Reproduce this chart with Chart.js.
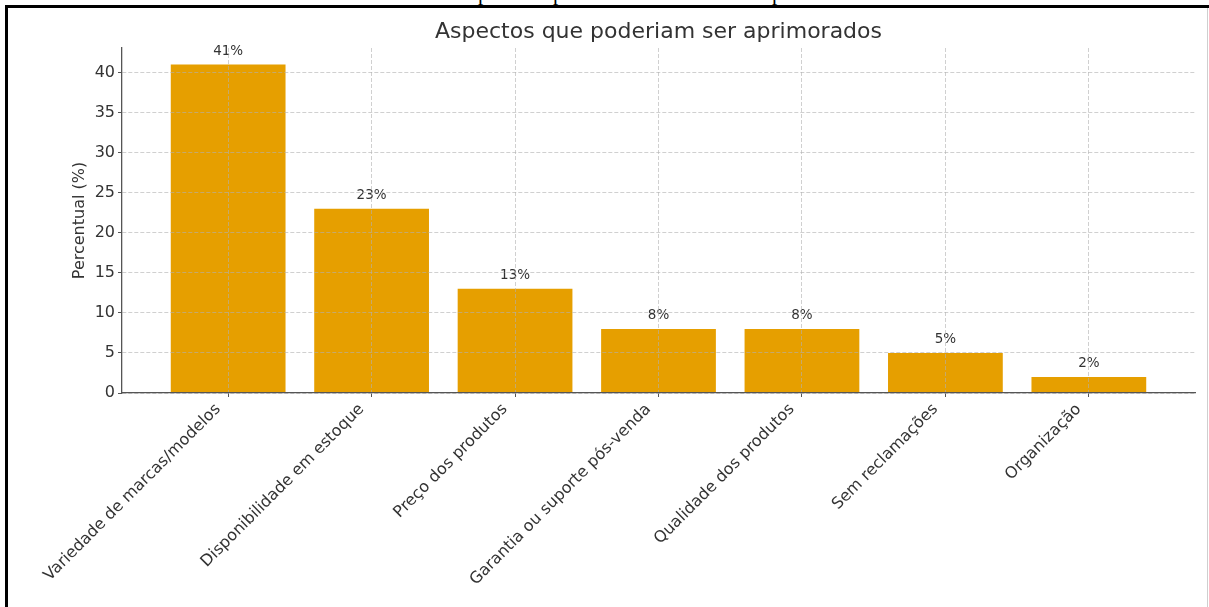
<!DOCTYPE html>
<html>
<head>
<meta charset="utf-8">
<script src="https://cdn.jsdelivr.net/npm/chart.js@4.4.1/dist/chart.umd.min.js"></script>
<style>
  html, body { margin: 0; padding: 0; background: #ffffff; }
  #wrap { position: relative; width: 1209px; height: 607px; overflow: hidden; background: #ffffff; }
  #c { position: absolute; left: 0; top: 0; }
  .fr { position: absolute; }
</style>
</head>
<body>
<div id="wrap">
  <svg class="fr" style="left:0;top:0" width="1209" height="5">
    <text x="478" y="0" font-family="Liberation Serif" font-size="21" fill="#000">p</text>
    <text x="553" y="0" font-family="Liberation Serif" font-size="21" fill="#000">p</text>
    <text x="772" y="0" font-family="Liberation Serif" font-size="21" fill="#000">p</text>
  </svg>
  <canvas id="c" width="1209" height="607"></canvas>
  <div class="fr" style="left:5px;top:5px;width:1204px;height:3px;background:#000"></div>
  <div class="fr" style="left:5px;top:5px;width:3px;height:602px;background:#000"></div>
  <div class="fr" style="left:1207px;top:8px;width:1px;height:599px;background:#cfcfcf"></div>
</div>
<script>
const categories = [
  "Variedade de marcas/modelos",
  "Disponibilidade em estoque",
  "Preço dos produtos",
  "Garantia ou suporte pós-venda",
  "Qualidade dos produtos",
  "Sem reclamações",
  "Organização"
];
const percentValues = [41, 23, 13, 8, 8, 5, 2];
const yTickValues = [0, 5, 10, 15, 20, 25, 30, 35, 40];
const chartTitle = "Aspectos que poderiam ser aprimorados";
const yAxisTitle = "Percentual (%)";

const FONT = "DejaVu Sans";
const barColor = "#E69F00";
const textColor = "#333333";
const spineColor = "#555555";
const gridColor = "rgba(176,176,176,0.6)";

const points = percentValues.map((v, i) => ({ x: i, y: v }));

const extrasPlugin = {
  id: "extras",
  afterDatasetsDraw(chart) {
    const ctx = chart.ctx;
    const meta = chart.getDatasetMeta(0);
    ctx.save();
    ctx.fillStyle = textColor;
    ctx.font = "13.5px '" + FONT + "'";
    ctx.textAlign = "center";
    ctx.textBaseline = "middle";
    meta.data.forEach((bar, i) => {
      ctx.fillText(percentValues[i] + "%", bar.x, bar.y - 13);
    });
    ctx.restore();
  },
  afterDraw(chart) {
    const ctx = chart.ctx;
    const area = chart.chartArea;
    ctx.save();
    ctx.fillStyle = textColor;
    ctx.font = "22px '" + FONT + "'";
    ctx.textAlign = "center";
    ctx.textBaseline = "middle";
    ctx.fillText(chartTitle, (area.left + area.right) / 2, 32);
    ctx.translate(80, (area.top + area.bottom) / 2);
    ctx.rotate(-Math.PI / 2);
    ctx.font = "16px '" + FONT + "'";
    ctx.fillText(yAxisTitle, 0, 0);
    ctx.restore();
  }
};

new Chart(document.getElementById("c"), {
  type: "bar",
  data: {
    datasets: [{
      data: points,
      backgroundColor: barColor,
      borderWidth: 0,
      barPercentage: 0.8,
      categoryPercentage: 1.0
    }]
  },
  plugins: [extrasPlugin],
  options: {
    responsive: false,
    animation: false,
    events: [],
    layout: { padding: { top: 48, right: 14, left: 0, bottom: 0 } },
    plugins: { legend: { display: false }, title: { display: false }, tooltip: { enabled: false } },
    scales: {
      x: {
        type: "linear",
        offset: false,
        min: -0.74,
        max: 6.74,
        afterBuildTicks(scale) {
          scale.ticks = categories.map((c, i) => ({ value: i }));
        },
        afterFit(scale) {
          scale.height = 214;
          scale.paddingLeft = 0;
          scale.paddingRight = 0;
        },
        grid: {
          z: 1,
          offset: false,
          color: gridColor,
          lineWidth: 1,
          drawTicks: true,
          tickLength: 4,
          tickColor: spineColor,
          tickWidth: 1
        },
        border: { display: true, z: 2, color: spineColor, width: 1.3, dash: [4, 2] },
        ticks: {
          autoSkip: false,
          minRotation: 45,
          maxRotation: 45,
          padding: 3,
          labelOffset: -10,
          color: textColor,
          font: { family: FONT, size: 16 },
          callback: (v) => categories[v] !== undefined ? categories[v] : ""
        }
      },
      y: {
        type: "linear",
        min: 0,
        max: 43.05,
        afterBuildTicks(scale) {
          scale.ticks = yTickValues.map(v => ({ value: v }));
        },
        afterFit(scale) {
          scale.width = 122;
          scale.paddingTop = 0;
          scale.paddingBottom = 0;
        },
        grid: {
          z: 1,
          color: gridColor,
          lineWidth: 1,
          drawTicks: true,
          tickLength: 4,
          tickColor: spineColor,
          tickWidth: 1
        },
        border: { display: true, z: 2, color: spineColor, width: 1.3, dash: [4, 2] },
        ticks: {
          padding: 3,
          color: textColor,
          font: { family: FONT, size: 16 }
        }
      }
    }
  }
});
</script>
</body>
</html>
